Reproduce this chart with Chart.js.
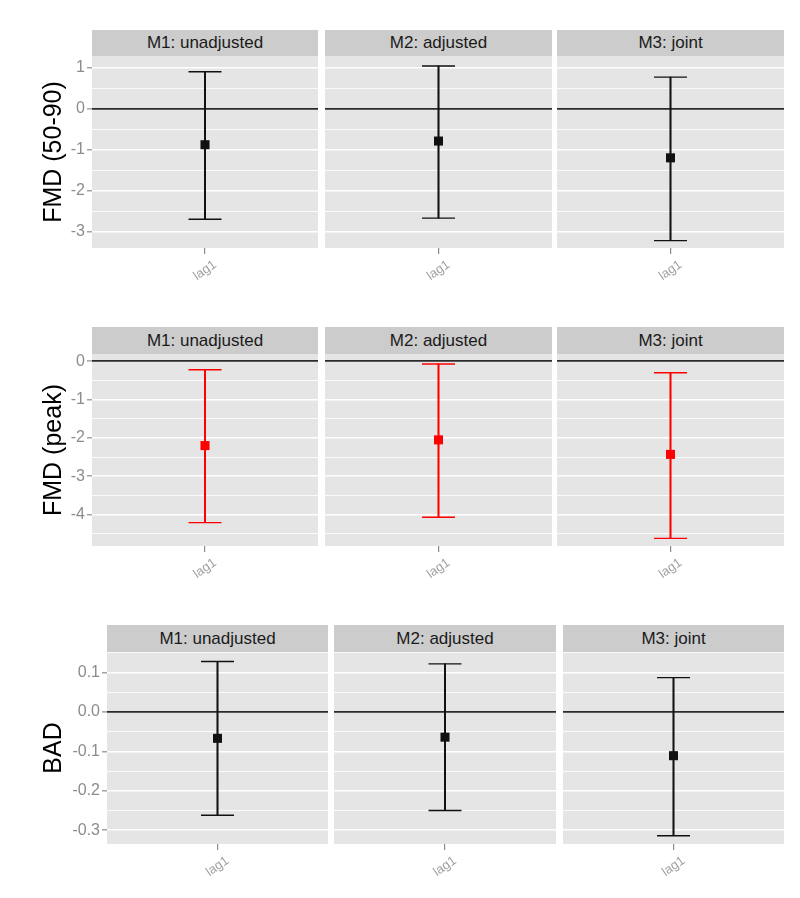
<!DOCTYPE html>
<html lang="en">
<head>
<meta charset="UTF-8" />
<title>FMD / BAD lag1 estimates</title>
<script src="https://cdn.jsdelivr.net/npm/chart.js@4.4.0/dist/chart.umd.min.js"></script>
<style>
  body { margin: 0; background: #fff; font-family: 'Liberation Sans', Arial, sans-serif; }
  #wrap { position: relative; width: 800px; height: 898px; }
  #wrap canvas { position: absolute; }
  .strip { position: absolute; background: #cccccc; color: #1a1a1a; font-size: 17px; text-align: center; }
</style>
</head>
<body>
<div id="wrap"></div>
<script>
// facet labels and the single x category
const models = ['M1: unadjusted', 'M2: adjusted', 'M3: joint'];
const lags = ['lag1'];

// FMD (50-90)
const fmd5090Est = [-0.88, -0.79, -1.20];
const fmd5090Lo = [-2.70, -2.67, -3.22];
const fmd5090Hi = [0.90, 1.04, 0.77];
const fmd5090Ticks = [-3, -2, -1, 0, 1];

// FMD (peak)
const fmdPeakEst = [-2.20, -2.05, -2.43];
const fmdPeakLo = [-4.21, -4.07, -4.62];
const fmdPeakHi = [-0.22, -0.07, -0.30];
const fmdPeakTicks = [-4, -3, -2, -1, 0];

// BAD
const badEst = [-0.067, -0.064, -0.111];
const badLo = [-0.262, -0.250, -0.314];
const badHi = [0.128, 0.122, 0.087];
const badTicks = [-0.3, -0.2, -0.1, 0.0, 0.1];

const FONT = "'Liberation Sans', Arial, sans-serif";
const TICK_GREY = '#8c8c8c';

const rows = [
  { title: 'FMD (50-90)', est: fmd5090Est, lo: fmd5090Lo, hi: fmd5090Hi, ticks: fmd5090Ticks,
    min: -3.40, max: 1.285, dec: 0, color: '#111111',
    stripTop: 30, plotTop: 56, plotBottom: 248, cols: [[92, 318], [325, 552], [557, 784]] },
  { title: 'FMD (peak)', est: fmdPeakEst, lo: fmdPeakLo, hi: fmdPeakHi, ticks: fmdPeakTicks,
    min: -4.82, max: 0.19, dec: 0, color: '#ff0000',
    stripTop: 327, plotTop: 354, plotBottom: 546, cols: [[92, 318], [325, 552], [557, 784]] },
  { title: 'BAD', est: badEst, lo: badLo, hi: badHi, ticks: badTicks,
    min: -0.335, max: 0.152, dec: 1, color: '#111111',
    stripTop: 625, plotTop: 652, plotBottom: 844, cols: [[107, 328], [334, 556], [563, 784]] }
];

// grey panel background
const panelBg = {
  id: 'panelBg',
  beforeDraw(chart) {
    const a = chart.chartArea;
    const c = chart.ctx;
    c.save();
    c.fillStyle = '#e5e5e5';
    c.fillRect(a.left, a.top, a.right - a.left, a.bottom - a.top);
    c.restore();
  }
};

function gridValues(major, min, max) {
  const step = major[1] - major[0];
  const out = [];
  major.forEach((t, k) => {
    if (t - step / 2 > min) out.push(t - step / 2);
    out.push(t);
    if (k === major.length - 1 && t + step / 2 < max - 0.01 * step) out.push(t + step / 2);
  });
  return out;
}

const wrap = document.getElementById('wrap');

rows.forEach(row => {
  const grid = gridValues(row.ticks, row.min, row.max);
  const isMajor = v => row.ticks.some(t => Math.abs(t - v) < 1e-9);

  row.cols.forEach(([l, r], i) => {
    const first = i === 0;

    const strip = document.createElement('div');
    strip.className = 'strip';
    strip.style.left = l + 'px';
    strip.style.top = row.stripTop + 'px';
    strip.style.width = (r - l) + 'px';
    strip.style.height = (row.plotTop - row.stripTop) + 'px';
    strip.style.lineHeight = (row.plotTop - row.stripTop) + 'px';
    strip.textContent = models[i];
    wrap.appendChild(strip);

    const cv = document.createElement('canvas');
    const w = first ? r : r - l;
    const h = row.plotBottom - row.plotTop + 45;
    cv.width = w;
    cv.height = h;
    cv.style.left = (first ? 0 : l) + 'px';
    cv.style.top = row.plotTop + 'px';
    cv.style.width = w + 'px';
    cv.style.height = h + 'px';
    wrap.appendChild(cv);

    const capStyle = {
      type: 'line', showLine: false, pointStyle: 'line', pointRadius: 16.5,
      pointBorderWidth: 1.4, pointBorderColor: row.color, pointBackgroundColor: row.color,
      order: 1, clip: false
    };

    new Chart(cv, {
      type: 'bar',
      data: {
        labels: lags,
        datasets: [
          { type: 'bar', data: [[row.lo[i], row.hi[i]]], backgroundColor: row.color,
            barThickness: 1.4, order: 2 },
          Object.assign({ data: [row.hi[i]] }, capStyle),
          Object.assign({ data: [row.lo[i]] }, capStyle),
          { type: 'line', data: [row.est[i]], showLine: false, pointStyle: 'rect',
            pointRadius: 6.4, pointBorderWidth: 0, pointBackgroundColor: row.color,
            order: 0, clip: false }
        ]
      },
      options: {
        responsive: false,
        animation: false,
        events: [],
        layout: { padding: 0, autoPadding: false },
        plugins: { legend: { display: false }, tooltip: { enabled: false } },
        scales: {
          x: {
            offset: true,
            afterFit: s => { s.height = 45; s.paddingLeft = 0; s.paddingRight = 0; },
            grid: { drawOnChartArea: false, offset: false, drawTicks: true, tickLength: 6,
                    color: TICK_GREY, lineWidth: 1.2 },
            border: { display: false },
            ticks: { color: '#a0a0a0', font: { size: 13, family: FONT },
                     minRotation: 35, maxRotation: 35, labelOffset: 10, padding: 3, autoSkip: false }
          },
          y: {
            min: row.min,
            max: row.max,
            afterBuildTicks: s => { s.ticks = grid.map(v => ({ value: v })); },
            afterFit: s => { s.width = first ? l : 0; s.paddingTop = 0; s.paddingBottom = 0; },
            ticks: {
              display: first, color: TICK_GREY, padding: 2, autoSkip: false,
              font: { size: 16, family: FONT },
              callback: v => isMajor(v) ? Number(v).toFixed(row.dec) : ''
            },
            grid: {
              drawTicks: first,
              tickLength: 5,
              tickWidth: 1.2,
              tickColor: c => isMajor(c.tick.value) ? TICK_GREY : 'rgba(0,0,0,0)',
              color: c => Math.abs(c.tick.value) < 1e-9 ? '#2b2b2b' : '#ffffff',
              lineWidth: c => Math.abs(c.tick.value) < 1e-9 ? 1.8 : (isMajor(c.tick.value) ? 1.6 : 0.8)
            },
            border: { display: false },
            title: { display: first, text: row.title, color: '#000000',
                     font: { size: 25, family: FONT }, padding: { top: 39, bottom: 0 } }
          }
        }
      },
      plugins: [panelBg]
    });
  });
});
</script>
</body>
</html>
